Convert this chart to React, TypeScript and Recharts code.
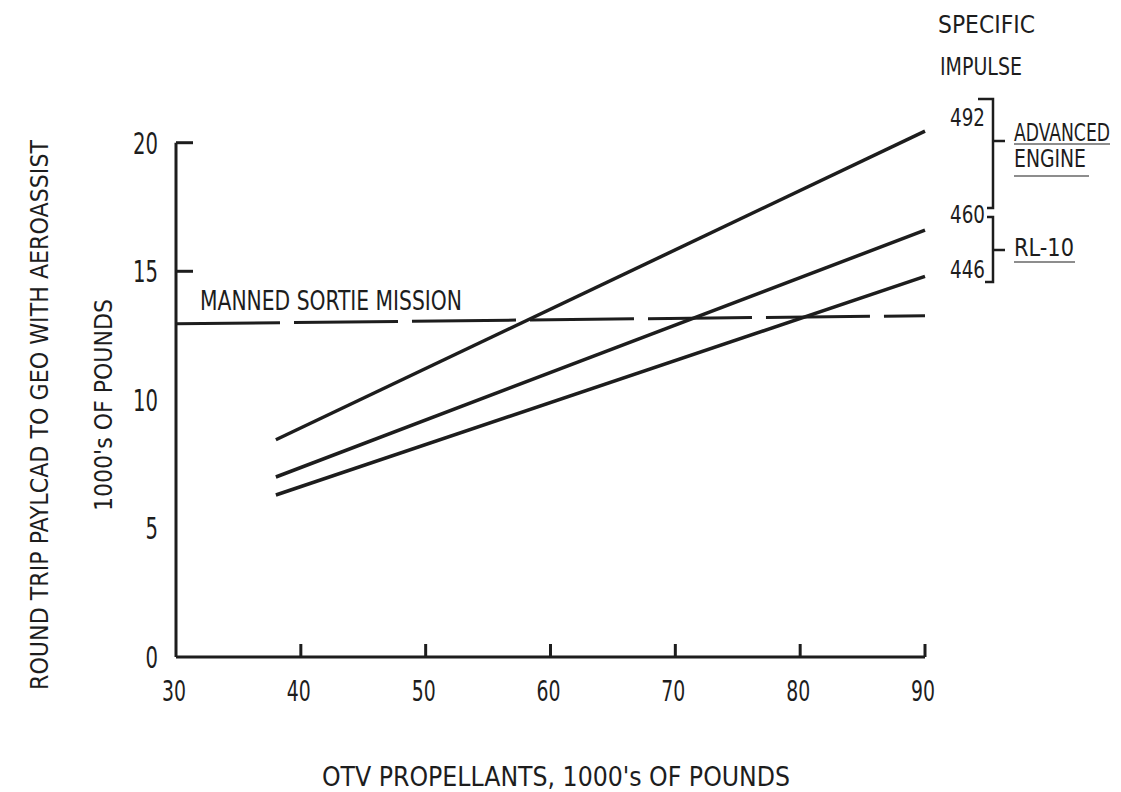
import { LineChart, Line, XAxis, YAxis, ReferenceLine } from 'recharts'

// OTV propellant (1000's lb) at the two ends of each line
const propellant = [38, 90]
const advancedEngine492 = [8.45, 20.45]
const rl10At460 = [7.0, 16.6]
const rl10At446 = [6.3, 14.8]

// manned sortie mission requirement
const sortieX = [30, 90]
const sortieY = [12.96, 13.27]

const xTicks = [30, 40, 50, 60, 70, 80, 90]
const yTicks = [0, 5, 10, 15, 20]
const yTickMarks = [15, 20]

const ink = '#1d1d1d'
const font = '"DejaVu Sans Condensed", "Liberation Sans Narrow", "DejaVu Sans", sans-serif'

const toPoints = (xs: number[], ys: number[]) => xs.map((x, i) => ({ x, y: ys[i] }))

const XTick = (props: any) => {
  const { x, y, payload } = props
  const v = payload.value
  return (
    <g>
      {v !== 30 && <line x1={x} y1={y} x2={x} y2={y - 13} stroke={ink} strokeWidth={3} />}
      <text
        x={x - 2}
        y={y + 44}
        textAnchor="middle"
        fill={ink}
        fontFamily={font}
        fontSize={29}
        textLength={String(v).length * 12}
        lengthAdjust="spacingAndGlyphs"
      >
        {v}
      </text>
    </g>
  )
}

const YTick = (props: any) => {
  const { x, y, payload } = props
  const v = payload.value
  return (
    <g>
      {yTickMarks.includes(v) && (
        <line x1={x} y1={y} x2={x + 17} y2={y} stroke={ink} strokeWidth={3} />
      )}
      <text
        x={x - 18}
        y={y + 11}
        textAnchor="end"
        fill={ink}
        fontFamily={font}
        fontSize={30}
        textLength={String(v).length * 12.5}
        lengthAdjust="spacingAndGlyphs"
      >
        {v}
      </text>
    </g>
  )
}

// condensed lettering: squeeze horizontally with a transform, then fit to len
const T = ({ x, y, len, size = 27, anchor = 'start', rot, children }: any) => {
  const sx = 0.7
  const tf = `translate(${x} ${y})${rot ? ` rotate(${rot})` : ''} scale(${sx} 1)`
  return (
    <text
      x={0}
      y={0}
      fill={ink}
      fontFamily={font}
      fontSize={size}
      textAnchor={anchor}
      textLength={len / sx}
      lengthAdjust="spacingAndGlyphs"
      transform={tf}
    >
      {children}
    </text>
  )
}

export default function App() {
  return (
    <div style={{ position: 'absolute', left: 0, top: 0, width: 1121, height: 792, background: '#fff' }}>
      <LineChart
        width={1121}
        height={792}
        margin={{ top: 117, right: 196, bottom: 134, left: 175 }}
      >
        <XAxis
          type="number"
          dataKey="x"
          domain={[30, 90]}
          ticks={xTicks}
          height={1}
          tickSize={0}
          tickMargin={0}
          tickLine={false}
          axisLine={{ stroke: ink, strokeWidth: 3 }}
          tick={<XTick />}
        />
        <YAxis
          type="number"
          dataKey="y"
          domain={[0, 21]}
          ticks={yTicks}
          width={1}
          tickSize={0}
          tickMargin={0}
          tickLine={false}
          axisLine={false}
          tick={<YTick />}
        />
        <ReferenceLine
          segment={[{ x: 30, y: 0 }, { x: 30, y: 20 }]}
          stroke={ink}
          strokeWidth={3}
        />
        <Line
          data={toPoints(sortieX, sortieY)}
          dataKey="y"
          stroke={ink}
          strokeWidth={3}
          strokeDasharray="104 14"
          dot={false}
          isAnimationActive={false}
        />
        <Line
          data={toPoints(propellant, advancedEngine492)}
          dataKey="y"
          stroke={ink}
          strokeWidth={3.5}
          dot={false}
          isAnimationActive={false}
        />
        <Line
          data={toPoints(propellant, rl10At460)}
          dataKey="y"
          stroke={ink}
          strokeWidth={3.5}
          dot={false}
          isAnimationActive={false}
        />
        <Line
          data={toPoints(propellant, rl10At446)}
          dataKey="y"
          stroke={ink}
          strokeWidth={3.5}
          dot={false}
          isAnimationActive={false}
        />
      </LineChart>
      <svg
        width={1121}
        height={792}
        style={{ position: 'absolute', left: 0, top: 0, pointerEvents: 'none' }}
      >
        <T x={48} y={415} len={550} size={25} anchor="middle" rot={-90}>
          ROUND TRIP PAYLCAD TO GEO WITH AEROASSIST
        </T>
        <T x={112} y={405} len={212} size={25} anchor="middle" rot={-90}>
          1000's OF POUNDS
        </T>
        <T x={556} y={786} len={468} anchor="middle">
          OTV PROPELLANTS, 1000's OF POUNDS
        </T>
        <T x={200} y={310} len={262}>MANNED SORTIE MISSION</T>

        <T x={938} y={33} len={97} size={25}>SPECIFIC</T>
        <T x={940} y={75} len={82} size={25}>IMPULSE</T>
        <T x={950} y={126} len={35} size={25}>492</T>
        <T x={950} y={223} len={35} size={25}>460</T>
        <T x={950} y={278} len={35} size={25}>446</T>

        <path d="M978 99 H993 V208 H987 M993 141 H1005" fill="none" stroke={ink} strokeWidth={2.5} />
        <path d="M987 217 H993 V282 H985 M993 250 H1005" fill="none" stroke={ink} strokeWidth={2.5} />

        <T x={1014} y={141} len={96} size={24}>ADVANCED</T>
        <line x1={1014} y1={144} x2={1110} y2={144} stroke={ink} strokeWidth={1.2} />
        <T x={1014} y={167} len={72} size={24}>ENGINE</T>
        <line x1={1014} y1={176} x2={1089} y2={176} stroke={ink} strokeWidth={1.2} />
        <T x={1014} y={256} len={60} size={24}>RL-10</T>
        <line x1={1014} y1={262} x2={1075} y2={262} stroke={ink} strokeWidth={1.2} />
      </svg>
    </div>
  )
}
